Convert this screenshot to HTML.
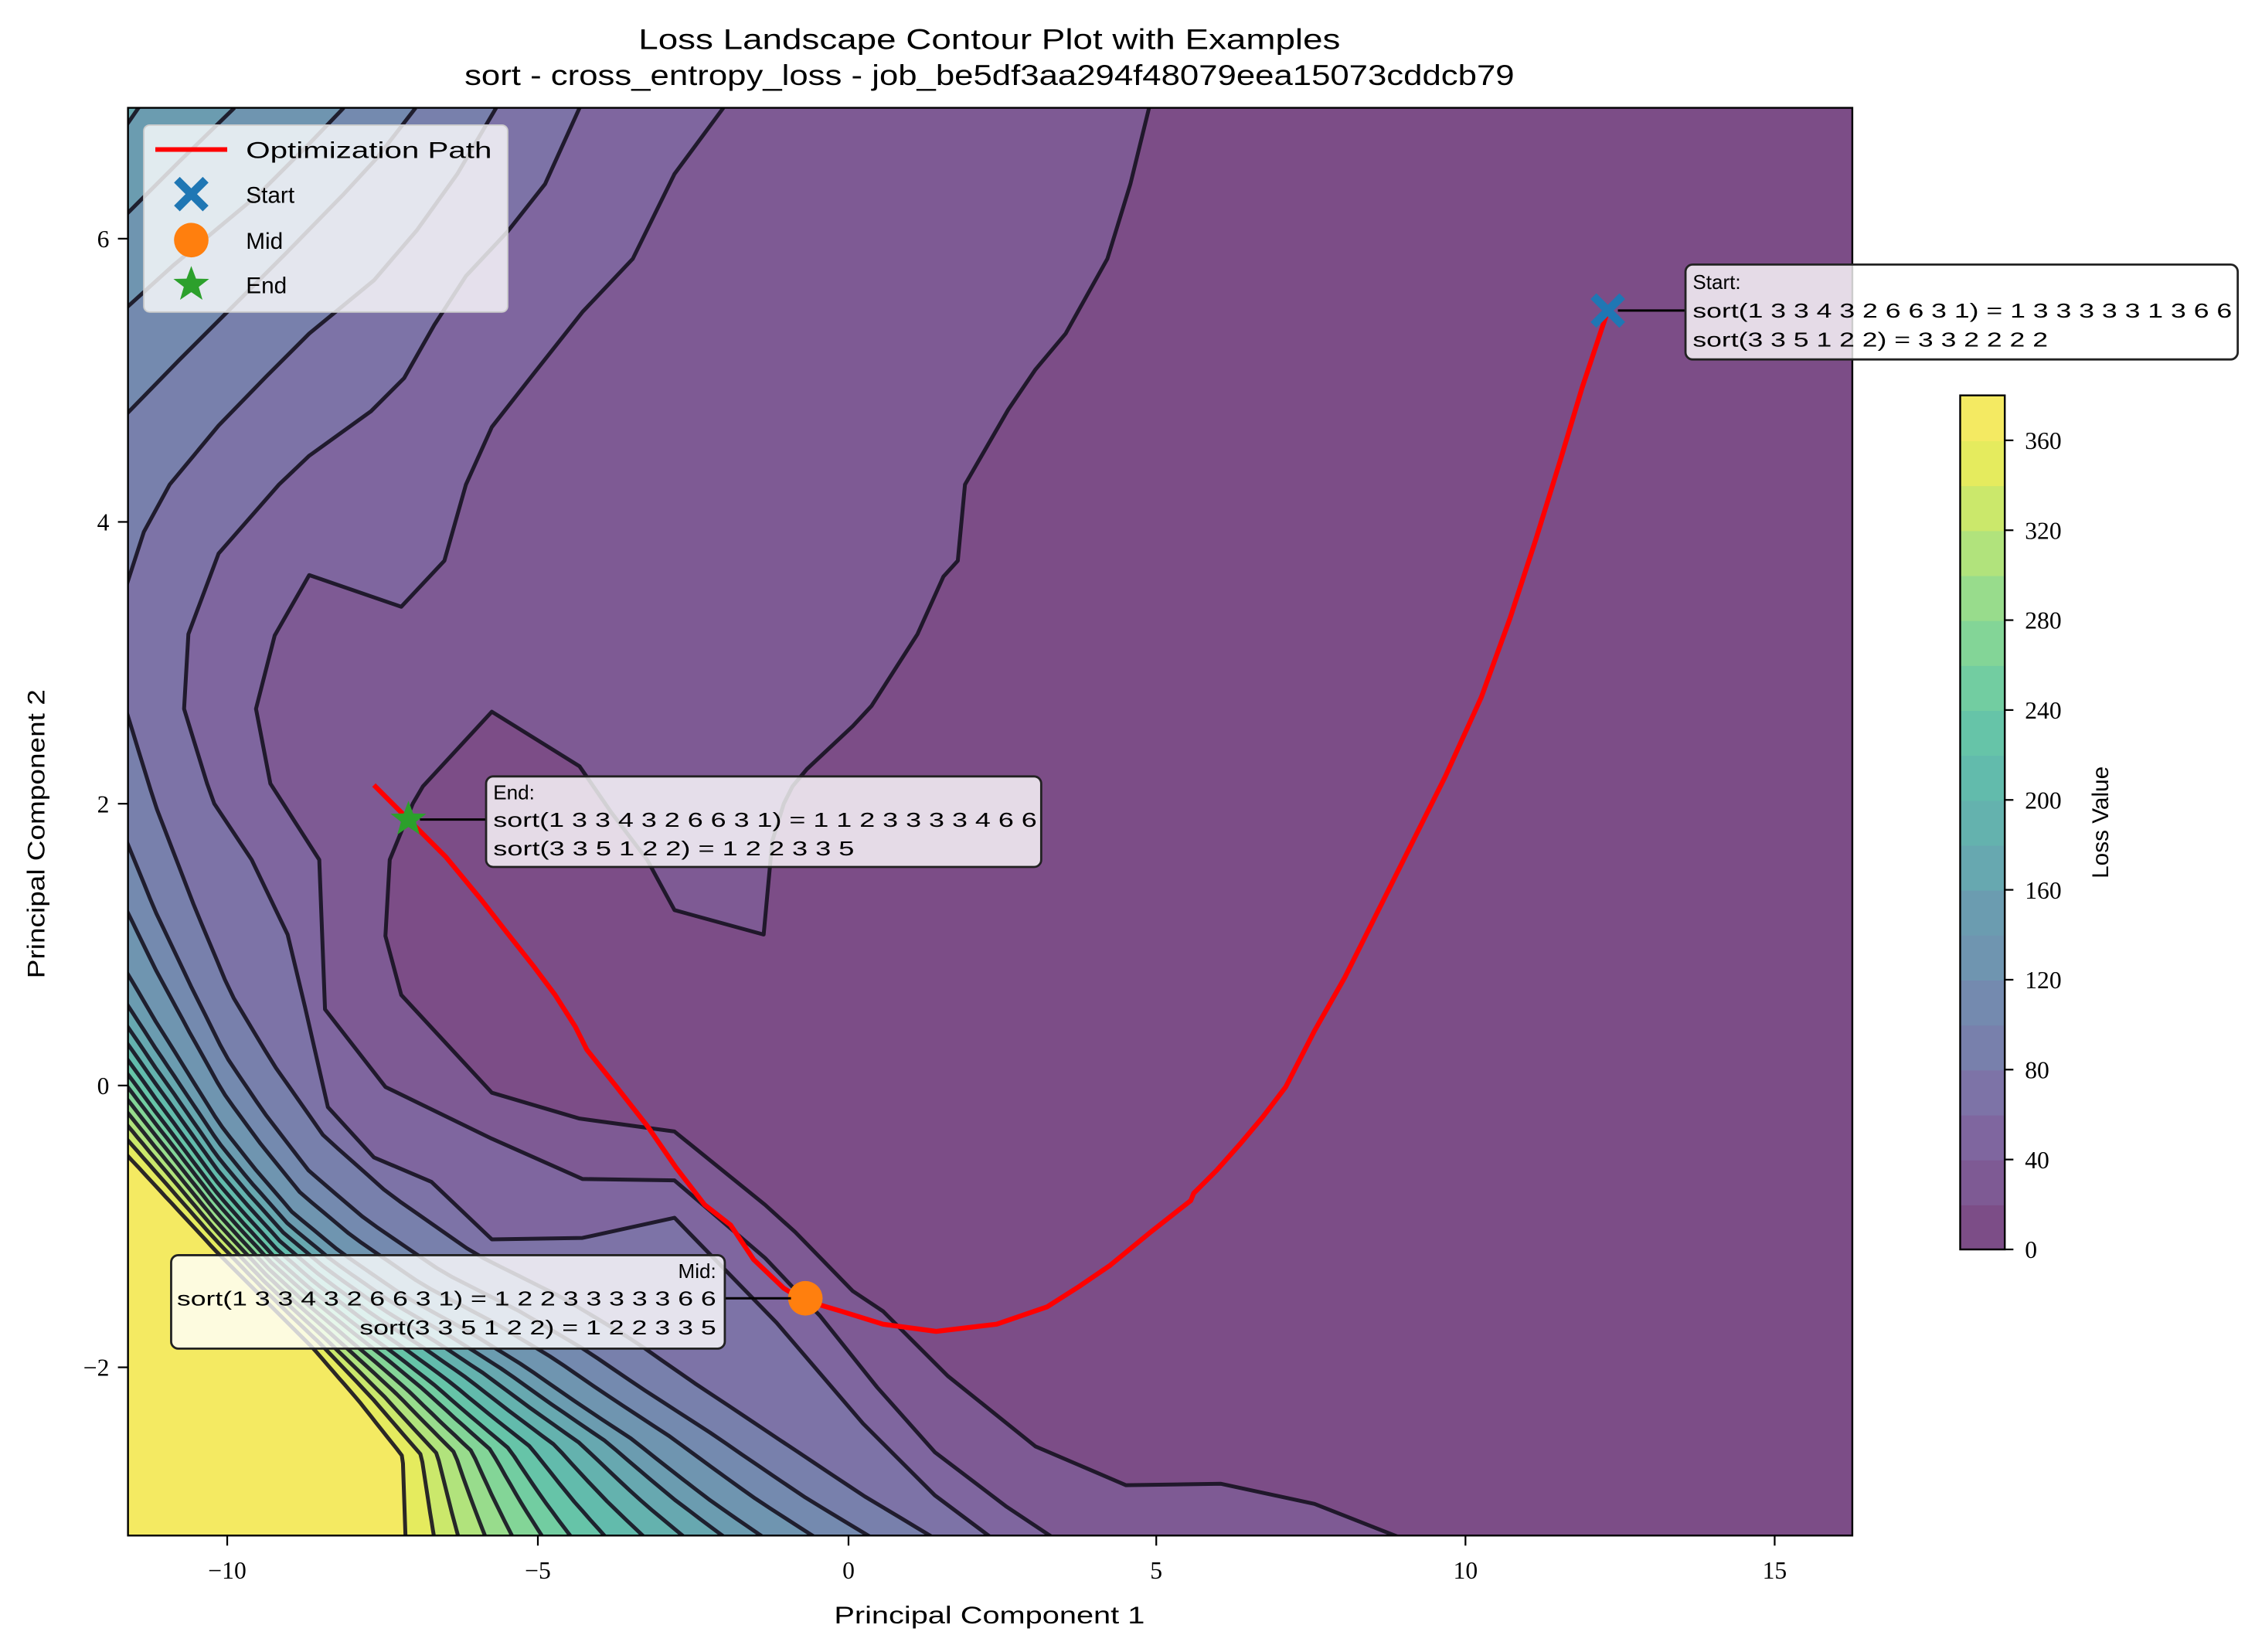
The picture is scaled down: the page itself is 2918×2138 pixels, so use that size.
<!DOCTYPE html>
<html><head><meta charset="utf-8"><style>
html,body{margin:0;padding:0;background:#fff;}
svg{display:block;}
text{font-family:"Liberation Sans",sans-serif;fill:#000;}
.serif{font-family:"Liberation Serif",serif;}
</style></head><body>
<svg id="s" xmlns="http://www.w3.org/2000/svg" width="2918" height="2138" viewBox="0 0 1568 1149" preserveAspectRatio="none">
<defs><clipPath id="pc"><rect x="89" y="75" width="1199" height="993"/></clipPath></defs>
<rect x="0" y="0" width="1568" height="1149" fill="#fff"/>
<g id="fills" clip-path="url(#pc)"></g>
<g id="lines" clip-path="url(#pc)" fill="none" stroke="rgba(22,18,32,0.9)" stroke-width="2.7" stroke-linejoin="round"></g>
<polyline clip-path="url(#pc)" fill="none" stroke="#ff0000" stroke-width="3.4" stroke-linejoin="round" points="260,546 284,570 310,596 334,625 352,648 371,672 386,692 400,714 408,730 428,755 450,783 470,812 490,838 508,852 524,876 545,896 558,904 585,912 614,921 651,926 693,921 728,909 750,895 772,880 800,857 828,835 830,830 846,814 862,796 878,777 894,756 914,717 935,680 955,640 980,590 1005,540 1030,485 1050,430 1068,375 1085,320 1100,270 1118,216"/>
<g transform="translate(1118,216)"><path d="M-8,-12 L0,-4 L8,-12 L12,-8 L4,0 L12,8 L8,12 L0,4 L-8,12 L-12,8 L-4,0 L-12,-8 Z" fill="#1f77b4"/></g>
<circle cx="560" cy="903" r="12" fill="#ff7f0e"/>
<path transform="translate(284,570)" d="M0,-13 L3.3,-4.2 L12.4,-4 L5.2,1.6 L7.8,10.5 L0,5.2 L-7.8,10.5 L-5.2,1.6 L-12.4,-4 L-3.3,-4.2 Z" fill="#2ca02c"/>
<rect x="89" y="75" width="1199" height="993" fill="none" stroke="#000" stroke-width="1.3"/>
<g stroke="#000" stroke-width="1.2">
<line x1="158" y1="1068" x2="158" y2="1075"/><line x1="374" y1="1068" x2="374" y2="1075"/><line x1="590" y1="1068" x2="590" y2="1075"/><line x1="804" y1="1068" x2="804" y2="1075"/><line x1="1019" y1="1068" x2="1019" y2="1075"/><line x1="1234" y1="1068" x2="1234" y2="1075"/>
<line x1="82" y1="166" x2="89" y2="166"/><line x1="82" y1="363" x2="89" y2="363"/><line x1="82" y1="559" x2="89" y2="559"/><line x1="82" y1="755" x2="89" y2="755"/><line x1="82" y1="951" x2="89" y2="951"/>
</g>
<g class="serif" font-size="17" text-anchor="middle">
<text class="serif" x="158" y="1098">−10</text><text class="serif" x="374" y="1098">−5</text><text class="serif" x="590" y="1098">0</text><text class="serif" x="804" y="1098">5</text><text class="serif" x="1019" y="1098">10</text><text class="serif" x="1234" y="1098">15</text>
</g>
<g font-size="17" text-anchor="end">
<text class="serif" x="76" y="172">6</text><text class="serif" x="76" y="369">4</text><text class="serif" x="76" y="565">2</text><text class="serif" x="76" y="761">0</text><text class="serif" x="76" y="957">−2</text>
</g>
<text x="688" y="1129" font-size="17" text-anchor="middle" textLength="216" lengthAdjust="spacingAndGlyphs">Principal Component 1</text>
<text transform="translate(31,580) rotate(-90)" font-size="17" text-anchor="middle" textLength="201" lengthAdjust="spacingAndGlyphs">Principal Component 2</text>
<text x="688" y="34" font-size="20" text-anchor="middle" textLength="488" lengthAdjust="spacingAndGlyphs">Loss Landscape Contour Plot with Examples</text>
<text x="688" y="59" font-size="20" text-anchor="middle" textLength="730" lengthAdjust="spacingAndGlyphs">sort - cross_entropy_loss - job_be5df3aa294f48079eea15073cddcb79</text>
<rect x="100" y="87" width="253" height="130" rx="4" fill="rgba(255,255,255,0.8)" stroke="#cccccc" stroke-width="1"/>
<line x1="108" y1="104" x2="158" y2="104" stroke="#ff0000" stroke-width="3.2"/>
<text x="171" y="110" font-size="16" textLength="171" lengthAdjust="spacingAndGlyphs">Optimization Path</text>
<path transform="translate(133,135)" d="M-8,-12 L0,-4 L8,-12 L12,-8 L4,0 L12,8 L8,12 L0,4 L-8,12 L-12,8 L-4,0 L-12,-8 Z" fill="#1f77b4"/>
<text x="171" y="141" font-size="16">Start</text>
<circle cx="133" cy="167" r="12" fill="#ff7f0e"/>
<text x="171" y="173" font-size="16">Mid</text>
<path transform="translate(133,198)" d="M0,-13 L3.3,-4.2 L12.4,-4 L5.2,1.6 L7.8,10.5 L0,5.2 L-7.8,10.5 L-5.2,1.6 L-12.4,-4 L-3.3,-4.2 Z" fill="#2ca02c"/>
<text x="171" y="204" font-size="16">End</text>
<line x1="1125" y1="216" x2="1172" y2="216" stroke="#000" stroke-width="1.6"/>
<rect x="1172" y="184" width="384" height="66" rx="5" fill="rgba(255,255,255,0.8)" stroke="#222" stroke-width="1.5"/>
<text x="1177" y="201" font-size="14">Start:</text>
<text x="1177" y="221" font-size="14" textLength="375" lengthAdjust="spacingAndGlyphs">sort(1 3 3 4 3 2 6 6 3 1) = 1 3 3 3 3 3 1 3 6 6</text>
<text x="1177" y="241" font-size="14" textLength="247" lengthAdjust="spacingAndGlyphs">sort(3 3 5 1 2 2) = 3 3 2 2 2 2</text>
<line x1="292" y1="570" x2="338" y2="570" stroke="#000" stroke-width="1.6"/>
<rect x="338" y="540" width="386" height="63" rx="5" fill="rgba(255,255,255,0.8)" stroke="#222" stroke-width="1.5"/>
<text x="343" y="556" font-size="14">End:</text>
<text x="343" y="575" font-size="14" textLength="378" lengthAdjust="spacingAndGlyphs">sort(1 3 3 4 3 2 6 6 3 1) = 1 1 2 3 3 3 3 4 6 6</text>
<text x="343" y="595" font-size="14" textLength="251" lengthAdjust="spacingAndGlyphs">sort(3 3 5 1 2 2) = 1 2 2 3 3 5</text>
<line x1="504" y1="903" x2="550" y2="903" stroke="#000" stroke-width="1.6"/>
<rect x="119" y="873" width="385" height="65" rx="5" fill="rgba(255,255,255,0.8)" stroke="#222" stroke-width="1.5"/>
<text x="498" y="889" font-size="14" text-anchor="end">Mid:</text>
<text x="123" y="908" font-size="14" textLength="375" lengthAdjust="spacingAndGlyphs">sort(1 3 3 4 3 2 6 6 3 1) = 1 2 2 3 3 3 3 3 6 6</text>
<text x="250" y="928" font-size="14" textLength="248" lengthAdjust="spacingAndGlyphs">sort(3 3 5 1 2 2) = 1 2 2 3 3 5</text>
<g id="cb"></g>
<rect x="1363" y="275" width="31" height="594" fill="none" stroke="#000" stroke-width="1.3"/>
<g id="cbt"></g>
<text transform="translate(1466,572) rotate(-90)" font-size="16" text-anchor="middle">Loss Value</text>
</svg>
<script>
var NS="http://www.w3.org/2000/svg";
var cols=[[124,77,135],[126,90,148],[127,102,159],[125,115,167],[120,128,172],[116,138,175],[111,149,176],[107,156,176],[103,168,176],[100,178,174],[98,187,172],[102,196,168],[114,205,161],[131,213,151],[152,220,140],[177,227,124],[203,232,107],[229,235,94],[244,234,98]];
function rgb(c){return "rgb("+c[0]+","+c[1]+","+c[2]+")";}
function el(t,a,p){var e=document.createElementNS(NS,t);for(var k in a)e.setAttribute(k,a[k]);p.appendChild(e);return e;}
function pts(a){return a.map(function(p){return p[0].toFixed(1)+","+p[1].toFixed(1);}).join(" ");}
function resample(a,n){var L=[0];for(var i=1;i<a.length;i++){L.push(L[i-1]+Math.hypot(a[i][0]-a[i-1][0],a[i][1]-a[i-1][1]));}
var T=L[L.length-1],out=[];for(var j=0;j<n;j++){var d=T*j/(n-1),k=1;while(k<a.length-1&&L[k]<d)k++;var f=(d-L[k-1])/((L[k]-L[k-1])||1);out.push([a[k-1][0]+f*(a[k][0]-a[k-1][0]),a[k-1][1]+f*(a[k][1]-a[k-1][1])]);}return out;}
var F=document.getElementById("fills"),Ln=document.getElementById("lines");
el("rect",{x:89,y:75,width:1199,height:993,fill:rgb(cols[0])},F);
var C1=[[799,75],[786,128],[770,180],[741,232],[720,257],[701,285],[671,337],[666,390],[656,401],[638,441],[606,491],[593,505],[561,535],[551,547],[545,559],[537,585],[531,650],[469,633],[450,598],[425,565],[403,533],[342,495],[294,547],[287,559],[271,598],[268,651],[279,692],[342,760],[403,778],[469,787],[532,838],[553,857],[593,898],[614,912],[659,957],[720,1006],[783,1033],[849,1032],[914,1046],[975,1070]];
var C2=[[503,75],[469,121],[440,180],[405,217],[371,260],[342,297],[324,337],[309,390],[279,422],[215,400],[191,442],[178,493],[188,545],[197,559],[222,598],[226,702],[268,756],[342,792],[405,820],[469,821],[532,875],[570,915],[610,965],[650,1010],[700,1048],[733,1070]];
var C3=[[403,75],[379,128],[353,161],[324,192],[302,226],[281,263],[258,286],[215,317],[194,337],[152,385],[131,441],[128,493],[144,545],[149,559],[175,598],[200,650],[212,700],[228,770],[260,805],[300,822],[342,862],[405,861],[469,847],[540,920],[600,990],[650,1040],[690,1070]];
var ups={4:[[345,75],[318,121],[290,160],[260,195],[215,232],[185,262],[152,296],[118,337],[100,370],[88,407]],
5:[[289,75],[262,110],[239,135],[200,175],[160,215],[125,250],[88,288]],
6:[[239,75],[215,100],[180,135],[150,160],[120,185],[88,214]],
7:[[163,75],[125,112],[88,149]],
8:[[97,74],[88,87]]};
var C4l=[[88,495],[108,560],[135,630],[160,690],[190,740],[225,790],[270,830],[330,872],[390,902],[440,932],[480,960],[540,1000],[600,1040],[650,1070]];
var C18=[[88,803],[150,870],[218,938],[250,975],[280,1013],[282,1070]];
var yL={4:495,5:585,6:633,7:676,8:698,9:713,10:725,11:736,12:746,13:755,14:764,15:773,16:782,17:792,18:803};
var xB={4:650,5:607,6:568,7:532,8:505,9:477,10:449,11:422,12:398,13:378,14:357,15:338,16:319,17:302,18:282};
var N=60,A=resample(C4l,N),B=resample(C18,N);
function low(k){var tL=(yL[k]-495)/308,tB=(650-xB[k])/368,o=[];for(var i=0;i<N;i++){var s=i/(N-1),t=(1-s)*tL+s*tB;o.push([A[i][0]+t*(B[i][0]-A[i][0]),A[i][1]+t*(B[i][1]-A[i][1])]);}return o;}
var lineList=[];
function addFull(k,c){el("polygon",{points:pts(c.concat([[80,1075],[80,70]])),fill:rgb(cols[k])},F);lineList.push(c);}
addFull(1,C1);addFull(2,C2);addFull(3,C3);
for(var k=4;k<=18;k++){
 if(ups[k]){var u=ups[k];el("polygon",{points:pts(u.concat([[80,70]])),fill:rgb(cols[k])},F);lineList.push(u);}
 var l=low(k);el("polygon",{points:pts(l.concat([[80,1075]])),fill:rgb(cols[k])},F);lineList.push(l);
}
lineList.forEach(function(c){el("polyline",{points:pts(c)},Ln);});
var cb=document.getElementById("cb"),cbt=document.getElementById("cbt");
for(var i=0;i<19;i++){var y0=869-(i+1)*594/19;el("rect",{x:1363,y:y0.toFixed(2),width:31,height:(594/19+0.6).toFixed(2),fill:rgb(cols[i])},cb);}
for(var v=0;v<=360;v+=40){var y=869-v*594/380;el("line",{x1:1394,y1:y,x2:1400,y2:y,stroke:"#000","stroke-width":1.2},cbt);var t=el("text",{x:1408,y:y+6,"font-size":17,"class":"serif"},cbt);t.textContent=String(v);}
</script>
</body></html>
